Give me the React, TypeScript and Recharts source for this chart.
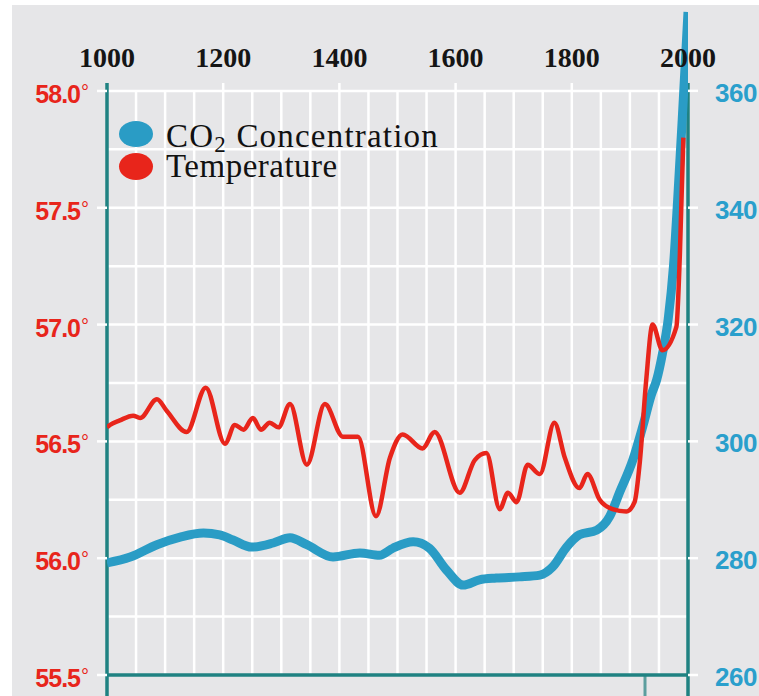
import React from 'react';
import { LineChart, Line, XAxis, YAxis, ReferenceLine, Legend } from 'recharts';

const yearTicks = [1000, 1200, 1400, 1600, 1800, 2000];
const tempTicks = [55.5, 56, 56.5, 57, 57.5, 58];
const co2Ticks = [260, 280, 300, 320, 340, 360];
const gridYears = [1050, 1100, 1150, 1200, 1250, 1300, 1350, 1400, 1450, 1500, 1550, 1600, 1650, 1700, 1750, 1800, 1850, 1900, 1950];
const gridTemps = [55.75, 56, 56.25, 56.5, 56.75, 57, 57.25, 57.5, 57.75, 58];

const co2Years = [1000, 1040, 1086, 1126, 1166, 1194, 1217, 1249, 1286, 1315, 1344, 1389, 1435, 1469, 1492, 1527, 1555, 1584, 1613, 1641, 1670, 1710, 1745, 1767, 1791, 1813, 1843, 1865, 1882, 1905, 1922, 1937, 1946, 1956, 1966, 1975, 1982, 1990, 2000];
const co2Values = [279.2, 280.2, 282.3, 283.6, 284.3, 284.0, 283.1, 281.9, 282.6, 283.5, 282.3, 280.2, 280.9, 280.5, 281.7, 282.8, 281.7, 278.0, 275.4, 276.3, 276.6, 276.8, 277.1, 278.5, 281.9, 284.0, 284.8, 287.1, 291.2, 296.8, 302.5, 308.0, 310.5, 315.0, 321.0, 330.0, 341.0, 355.0, 373.5];

const tempYears = [1000, 1005, 1022, 1045, 1057, 1086, 1103, 1137, 1170, 1203, 1220, 1235, 1251, 1265, 1280, 1295, 1315, 1344, 1375, 1406, 1432, 1463, 1487, 1509, 1543, 1564, 1607, 1633, 1653, 1676, 1690, 1705, 1724, 1745, 1770, 1788, 1813, 1827, 1848, 1870, 1894, 1908, 1917, 1928, 1939, 1956, 1980, 1986, 1992];
const tempValues = [56.56, 56.57, 56.59, 56.61, 56.60, 56.68, 56.63, 56.54, 56.73, 56.49, 56.57, 56.55, 56.60, 56.55, 56.58, 56.56, 56.66, 56.40, 56.66, 56.52, 56.52, 56.18, 56.43, 56.53, 56.47, 56.54, 56.28, 56.42, 56.45, 56.21, 56.28, 56.24, 56.40, 56.36, 56.58, 56.43, 56.30, 56.36, 56.25, 56.21, 56.20, 56.24, 56.41, 56.76, 57.00, 56.89, 56.99, 57.30, 57.80];

const co2Data = co2Years.map((year, i) => ({ year, co2: co2Values[i] }));
const tempData = tempYears.map((year, i) => ({ year, temp: tempValues[i] }));

const RED = '#e8251b';
const BLUE = '#2a9cc5';
const TEAL = '#1f8282';
const BG = '#e6e6e8';

// year labels sit above the plot, the axis itself is at the bottom
const YearTick = ({ x, payload }: any) => (
  <text x={x} y={67} textAnchor="middle" fill="#151515" fontFamily="'Liberation Serif', serif" fontWeight="bold" fontSize={28}>
    {payload.value}
  </text>
);

const TempTick = ({ x, y, payload }: any) => (
  <text x={x} y={y + 12} textAnchor="end" fill={RED} fontFamily="'Liberation Sans', Arial, sans-serif" fontWeight="bold" fontSize={25} letterSpacing={-1}>
    {Number(payload.value).toFixed(1)}
    <tspan fontSize={20} fontWeight="normal" dx={1} dy={-4}>°</tspan>
  </text>
);

const Co2Tick = ({ x, y, payload }: any) => (
  <text x={x} y={y + 11} textAnchor="start" fill="#2a9fcc" fontFamily="'Liberation Sans', Arial, sans-serif" fontWeight="bold" fontSize={26} letterSpacing={-0.5}>
    {payload.value}
  </text>
);

const LegendBox = () => (
  <svg width={380} height={80}>
    <ellipse cx={36} cy={24} rx={17} ry={13} fill={BLUE} />
    <ellipse cx={36} cy={56.5} rx={17} ry={13.5} fill={RED} />
    <text x={66} y={37} fontFamily="'Liberation Serif', serif" fontSize={33} letterSpacing={1.2} fill="#111">
      <tspan>CO</tspan>
      <tspan fontSize={23} dy={5}>2</tspan>
      <tspan dy={-5}> Concentration</tspan>
    </text>
    <text x={66} y={67} fontFamily="'Liberation Serif', serif" fontSize={33} letterSpacing={0.5} fill="#111">
      Temperature
    </text>
  </svg>
);

export default function App() {
  return (
    <div style={{ position: 'absolute', left: 0, top: 0, width: 759, height: 696, background: '#fff' }}>
      <div style={{ position: 'absolute', left: 12, top: 5, width: 747, height: 691, background: BG }} />
      <div style={{ position: 'absolute', left: 0, top: 0 }}>
        <LineChart width={759} height={696} margin={{ top: 5, right: 0, bottom: 0, left: 0 }}>
          <XAxis
            dataKey="year"
            type="number"
            orientation="bottom"
            domain={[1000, 2000]}
            ticks={yearTicks}
            interval={0}
            allowDataOverflow
            height={21}
            axisLine={false}
            tickLine={false}
            tick={<YearTick />}
          />
          <YAxis
            yAxisId="left"
            orientation="left"
            type="number"
            domain={[55.5, 58.368]}
            ticks={tempTicks}
            allowDataOverflow
            width={107}
            axisLine={false}
            tickLine={{ stroke: '#ffffff', strokeWidth: 2.5 }}
            tickSize={10}
            tickMargin={9}
            tick={<TempTick />}
          />
          <YAxis
            yAxisId="right"
            orientation="right"
            type="number"
            domain={[260, 374.7]}
            ticks={co2Ticks}
            allowDataOverflow
            width={71}
            axisLine={false}
            tickLine={{ stroke: '#ffffff', strokeWidth: 2.5 }}
            tickSize={10}
            tickMargin={17}
            tick={<Co2Tick />}
          />
          {gridTemps.map((t) => (
            <ReferenceLine key={'h' + t} yAxisId="left" y={t} stroke="#ffffff" strokeWidth={2.5} />
          ))}
          {gridYears.map((yr) => (
            <ReferenceLine
              key={'v' + yr}
              yAxisId="left"
              ifOverflow="visible"
              segment={[{ x: yr, y: 55.5 }, { x: yr, y: yr % 200 === 0 ? 58.034 : 58 }]}
              stroke="#ffffff"
              strokeWidth={2.5}
            />
          ))}
          <ReferenceLine yAxisId="left" ifOverflow="visible" segment={[{ x: 1926, y: 55.5 }, { x: 1926, y: 55.41 }]} stroke="#5c9e9e" strokeWidth={3} />
          <ReferenceLine yAxisId="left" ifOverflow="visible" segment={[{ x: 1000, y: 55.5 }, { x: 2000, y: 55.5 }]} stroke={TEAL} strokeWidth={3.5} />
          <ReferenceLine yAxisId="left" ifOverflow="visible" segment={[{ x: 1000, y: 58.034 }, { x: 1000, y: 55.41 }]} stroke={TEAL} strokeWidth={3.5} />
          <ReferenceLine yAxisId="left" ifOverflow="visible" segment={[{ x: 2000, y: 58.034 }, { x: 2000, y: 55.41 }]} stroke={TEAL} strokeWidth={3.5} />
          <Legend
            layout="vertical"
            align="center"
            verticalAlign="middle"
            content={() => <LegendBox />}
            wrapperStyle={{ left: 100, top: 110, width: 380, height: 80 }}
          />
          <Line
            yAxisId="right"
            data={co2Data}
            dataKey="co2"
            type="monotone"
            stroke={BLUE}
            strokeWidth={9}
            dot={false}
            isAnimationActive={false}
          />
          <Line
            yAxisId="left"
            data={tempData}
            dataKey="temp"
            type="monotone"
            stroke={RED}
            strokeWidth={4.5}
            dot={false}
            isAnimationActive={false}
          />
        </LineChart>
      </div>
    </div>
  );
}
